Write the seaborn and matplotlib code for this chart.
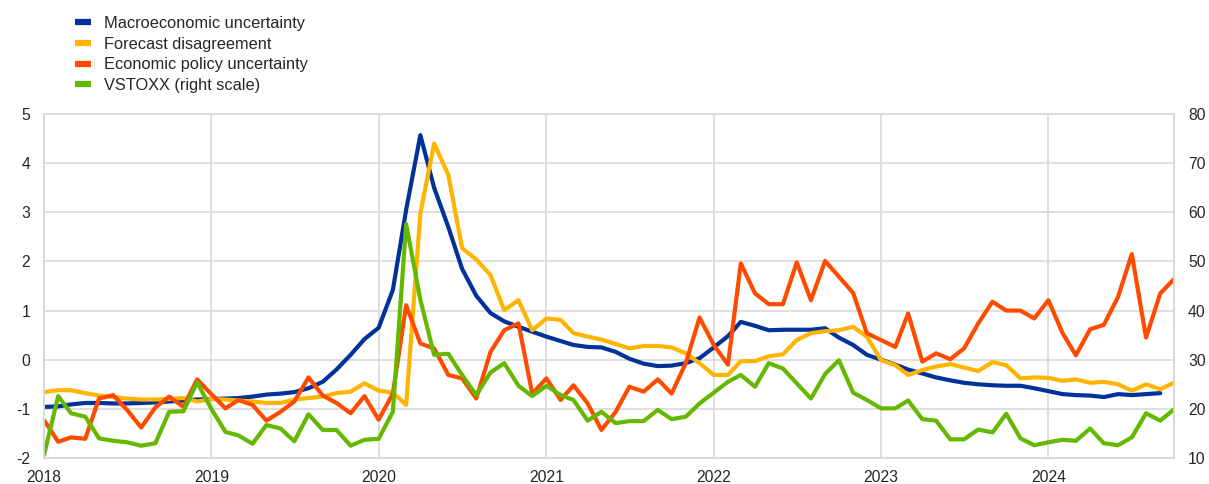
import pandas as pd
import seaborn as sns
import matplotlib.pyplot as plt
import matplotlib.dates as mdates

# monthly observations, Jan 2018 - Oct 2024
dates = pd.date_range('2018-01-01', periods=82, freq='MS')

macro_uncertainty = [
    -0.96, -0.95, -0.91, -0.88, -0.88, -0.89, -0.89, -0.88, -0.87, -0.85, -0.83, -0.81,
    -0.80, -0.79, -0.78, -0.75, -0.71, -0.69, -0.66, -0.58, -0.45, -0.20, 0.10, 0.42,
    0.65, 1.42, 3.05, 4.57, 3.50, 2.70, 1.85, 1.30, 0.95, 0.78, 0.67, 0.57,
    0.47, 0.38, 0.30, 0.26, 0.25, 0.16, 0.02, -0.08, -0.13, -0.12, -0.07, 0.03,
    0.25, 0.48, 0.77, 0.69, 0.60, 0.61, 0.61, 0.61, 0.64, 0.45, 0.30, 0.10,
    0.00, -0.10, -0.20, -0.28, -0.36, -0.42, -0.47, -0.50, -0.52, -0.53, -0.53, -0.58,
    -0.64, -0.70, -0.72, -0.73, -0.76, -0.70, -0.72, -0.70, -0.68, None,
]

forecast_disagreement = [
    -0.66, -0.62, -0.62, -0.68, -0.73, -0.76, -0.79, -0.81, -0.81, -0.80, -0.78, -0.85,
    -0.80, -0.81, -0.83, -0.85, -0.88, -0.88, -0.81, -0.78, -0.75, -0.68, -0.65, -0.48,
    -0.63, -0.67, -0.92, 2.98, 4.40, 3.76, 2.27, 2.04, 1.72, 1.01, 1.21, 0.60,
    0.84, 0.81, 0.54, 0.47, 0.41, 0.32, 0.23, 0.28, 0.28, 0.25, 0.13, -0.07,
    -0.31, -0.31, -0.03, -0.03, 0.07, 0.11, 0.40, 0.54, 0.58, 0.60, 0.67, 0.47,
    -0.01, -0.11, -0.31, -0.21, -0.14, -0.09, -0.16, -0.23, -0.05, -0.11, -0.38, -0.36,
    -0.37, -0.43, -0.40, -0.47, -0.45, -0.50, -0.63, -0.50, -0.60, -0.47,
]

policy_uncertainty = [
    -1.23, -1.67, -1.58, -1.61, -0.79, -0.72, -1.02, -1.38, -0.97, -0.75, -0.96, -0.40,
    -0.70, -0.99, -0.82, -0.92, -1.24, -1.06, -0.85, -0.36, -0.73, -0.88, -1.09, -0.74,
    -1.22, -0.69, 1.11, 0.33, 0.23, -0.31, -0.38, -0.79, 0.16, 0.60, 0.74, -0.69,
    -0.38, -0.82, -0.52, -0.89, -1.43, -1.06, -0.55, -0.65, -0.40, -0.69, -0.07, 0.86,
    0.30, -0.10, 1.96, 1.35, 1.13, 1.13, 1.98, 1.21, 2.01, 1.69, 1.36, 0.54,
    0.40, 0.26, 0.94, -0.04, 0.13, 0.01, 0.23, 0.74, 1.18, 1.00, 1.00, 0.84,
    1.21, 0.54, 0.09, 0.62, 0.71, 1.28, 2.15, 0.45, 1.35, 1.64,
]

vstoxx = [
    10.6, 22.6, 19.1, 18.4, 14.0, 13.5, 13.2, 12.5, 13.0, 19.4, 19.5, 25.4,
    20.0, 15.3, 14.6, 12.9, 16.7, 16.0, 13.4, 18.9, 15.7, 15.7, 12.5, 13.7,
    13.9, 19.4, 57.6, 42.2, 31.0, 31.2, 26.9, 22.8, 27.4, 29.3, 24.7, 22.6,
    24.7, 22.8, 21.8, 17.6, 19.4, 17.1, 17.5, 17.5, 19.8, 17.9, 18.4, 21.1,
    23.3, 25.5, 26.9, 24.5, 29.3, 28.2, 25.2, 22.1, 27.1, 29.9, 23.3, 21.8,
    20.1, 20.1, 21.7, 17.9, 17.6, 13.8, 13.8, 15.8, 15.2, 19.0, 14.0, 12.6,
    13.2, 13.7, 13.5, 16.0, 13.0, 12.6, 14.2, 19.1, 17.6, 19.9,
]

labels = ['Macroeconomic uncertainty', 'Forecast disagreement',
          'Economic policy uncertainty', 'VSTOXX (right scale)']
colors = ['#003299', '#ffb400', '#ff4b00', '#65b800']

df = pd.DataFrame({
    'date': dates,
    'macro': pd.array(macro_uncertainty, dtype='Float64').astype(float),
    'disagreement': forecast_disagreement,
    'epu': policy_uncertainty,
    'vstoxx': vstoxx,
})

sns.set_style('white')
plt.rcParams['font.family'] = ['Liberation Sans', 'DejaVu Sans']
plt.rcParams['axes.unicode_minus'] = False

fig = plt.figure(figsize=(12.09, 4.84), dpi=100)
ax = fig.add_axes([44 / 1209, 1 - 458 / 484, (1174 - 44) / 1209, (458 - 114) / 484])
ax2 = ax.twinx()

lw = 3.0
sns.lineplot(data=df, x='date', y='macro', ax=ax, color=colors[0], lw=lw, label=labels[0], legend=False)
sns.lineplot(data=df, x='date', y='disagreement', ax=ax, color=colors[1], lw=lw, label=labels[1], legend=False)
sns.lineplot(data=df, x='date', y='epu', ax=ax, color=colors[2], lw=lw, label=labels[2], legend=False)
sns.lineplot(data=df, x='date', y='vstoxx', ax=ax2, color=colors[3], lw=lw, label=labels[3], legend=False)

grid_col = '#d9d9d9'
txt_col = '#262626'

ax.set_ylim(-2, 5)
ax.set_yticks(range(-2, 6))
ax2.set_ylim(10, 80)
ax2.set_yticks(range(10, 81, 10))
ax.set_xlim(dates[0], dates[-1])
ax.set_xticks(pd.date_range('2018-01-01', '2024-01-01', freq='YS'))
ax.xaxis.set_major_formatter(mdates.DateFormatter('%Y'))

ax.grid(True, color=grid_col, lw=1.2)
ax.set_axisbelow(True)
ax2.grid(False)
for a in (ax, ax2):
    a.set_xlabel('')
    a.set_ylabel('')
    for s in a.spines.values():
        s.set_color(grid_col)
        s.set_linewidth(1.2)
    a.tick_params(length=0, labelsize=11.3, colors=txt_col)
ax.tick_params(axis='y', pad=10)
ax.tick_params(axis='x', pad=9)
ax2.tick_params(axis='y', pad=10)

handles = [plt.Line2D([], [], color=c, lw=4.5, solid_capstyle='butt') for c in colors]
fig.legend(handles, labels, loc='upper left', bbox_to_anchor=(75 / 1209, 1 - 16 / 484),
           frameon=False, fontsize=11.8, handlelength=1.0, handletextpad=0.75,
           labelspacing=0.35, borderpad=0, borderaxespad=0)

fig.savefig('out.png', dpi=100)
